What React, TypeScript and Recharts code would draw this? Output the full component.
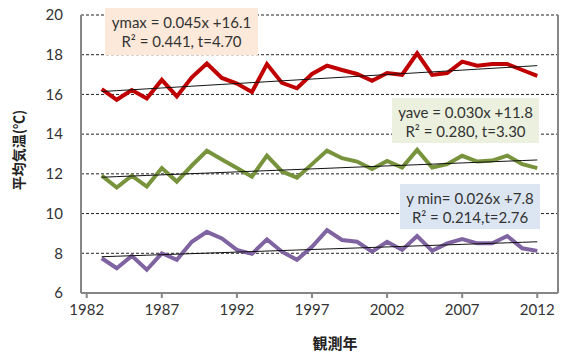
import { LineChart, Line, XAxis, YAxis, CartesianGrid, ReferenceLine } from "recharts"

// annual mean temperatures, 1983-2012
const years = [
  1983, 1984, 1985, 1986, 1987, 1988, 1989, 1990, 1991, 1992,
  1993, 1994, 1995, 1996, 1997, 1998, 1999, 2000, 2001, 2002,
  2003, 2004, 2005, 2006, 2007, 2008, 2009, 2010, 2011, 2012,
]
const tMax = [
  16.27, 15.73, 16.22, 15.8, 16.73, 15.9, 16.86, 17.56, 16.83, 16.55,
  16.12, 17.53, 16.58, 16.31, 17.03, 17.45, 17.23, 17.03, 16.69, 17.08,
  16.99, 18.07, 16.98, 17.08, 17.65, 17.45, 17.53, 17.53, 17.23, 16.94,
]
const tAve = [
  11.91, 11.31, 11.91, 11.36, 12.29, 11.61, 12.42, 13.16, 12.72, 12.3,
  11.86, 12.92, 12.12, 11.81, 12.49, 13.17, 12.79, 12.62, 12.24, 12.65,
  12.32, 13.21, 12.32, 12.49, 12.91, 12.62, 12.67, 12.92, 12.49, 12.29,
]
const tMin = [
  7.75, 7.25, 7.87, 7.17, 8.0, 7.67, 8.58, 9.08, 8.75, 8.17,
  7.97, 8.7, 8.08, 7.67, 8.33, 9.17, 8.67, 8.58, 8.08, 8.58,
  8.17, 8.87, 8.12, 8.5, 8.72, 8.5, 8.5, 8.87, 8.25, 8.12,
]

// regression coefficients [slope, intercept], x = year - 1982
const fitMax = [0.045, 16.1]
const fitAve = [0.03, 11.8]
const fitMin = [0.026, 7.8]

const xTicks = [1982, 1987, 1992, 1997, 2002, 2007, 2012]
const yTicks = [6, 8, 10, 12, 14, 16, 18, 20]

const fit = (c: number[], year: number) => c[0] * (year - 1982) + c[1]

const rows = years.map((year, i) => ({
  year,
  max: tMax[i],
  ave: tAve[i],
  min: tMin[i],
  maxFit: fit(fitMax, year),
  aveFit: fit(fitAve, year),
  minFit: fit(fitMin, year),
}))

const FONT = "Lato, 'Liberation Sans', sans-serif"
const AXIS = "#868686"

const boxStyle = (left: number, top: number, width: number, height: number, bg: string) => ({
  position: "absolute" as const,
  left,
  top,
  width,
  height,
  background: bg,
  fontFamily: FONT,
  fontSize: 15,
  color: "#333",
  textAlign: "center" as const,
  lineHeight: "19px",
  paddingTop: 5,
  boxSizing: "border-box" as const,
})

export default function App() {
  return (
    <div style={{ position: "relative", width: 563, height: 353, background: "#fff" }}>
      <style>{`body{margin:0}`}</style>
      <LineChart
        width={563}
        height={353}
        data={rows}
        margin={{ top: 15, right: 5, bottom: 30, left: 0 }}
      >
        <CartesianGrid vertical={false} stroke="#222" strokeDasharray="3 2" />
        <XAxis
          dataKey="year"
          type="number"
          domain={[1981.62, 2013.38]}
          ticks={xTicks}
          interval={0}
          height={30}
          stroke={AXIS}
          strokeWidth={2}
          tickSize={5}
          tickMargin={6}
          tick={{ fill: "#333", fontSize: 15, fontFamily: FONT }}
        />
        <YAxis
          domain={[6, 20]}
          ticks={yTicks}
          interval={0}
          width={81}
          stroke={AXIS}
          strokeWidth={2}
          tickLine={false}
          tickSize={0}
          tickMargin={18}
          tick={{ fill: "#333", fontSize: 15, fontFamily: FONT }}
        />
        <ReferenceLine x={2013.38} stroke={AXIS} strokeWidth={2} />
        <Line dataKey="max" stroke="#c00000" strokeWidth={4} dot={false} isAnimationActive={false} strokeLinejoin="miter" />
        <Line dataKey="ave" stroke="#77933c" strokeWidth={4} dot={false} isAnimationActive={false} strokeLinejoin="miter" />
        <Line dataKey="min" stroke="#8064a2" strokeWidth={4} dot={false} isAnimationActive={false} strokeLinejoin="miter" />
        <Line dataKey="maxFit" stroke="#111" strokeWidth={1} dot={false} isAnimationActive={false} />
        <Line dataKey="aveFit" stroke="#111" strokeWidth={1} dot={false} isAnimationActive={false} />
        <Line dataKey="minFit" stroke="#111" strokeWidth={1} dot={false} isAnimationActive={false} />
      </LineChart>

      <div
        style={{
          position: "absolute",
          left: 18,
          top: 150,
          transform: "translate(-50%, -50%) rotate(-90deg)",
          whiteSpace: "nowrap",
          fontFamily: "'Noto Sans CJK JP', sans-serif",
          fontWeight: 700,
          fontSize: 14,
          color: "#222",
        }}
      >
        平均気温(℃)
      </div>
      <div
        style={{
          position: "absolute",
          left: 335,
          top: 342,
          transform: "translate(-50%, -50%)",
          whiteSpace: "nowrap",
          fontFamily: "'Noto Sans CJK JP', sans-serif",
          fontWeight: 700,
          fontSize: 15,
          color: "#222",
        }}
      >
        観測年
      </div>

      <div style={boxStyle(105, 8, 153, 47, "#fde9d9")}>
        <div>ymax = 0.045x +16.1</div>
        <div>R² = 0.441, t=4.70</div>
      </div>
      <div style={boxStyle(392, 98, 147, 45, "#ebf1de")}>
        <div>yave = 0.030x +11.8</div>
        <div>R² = 0.280, t=3.30</div>
      </div>
      <div style={boxStyle(400, 184, 140, 45, "#dce6f2")}>
        <div>y min= 0.026x +7.8</div>
        <div>R² = 0.214,t=2.76</div>
      </div>
    </div>
  )
}
